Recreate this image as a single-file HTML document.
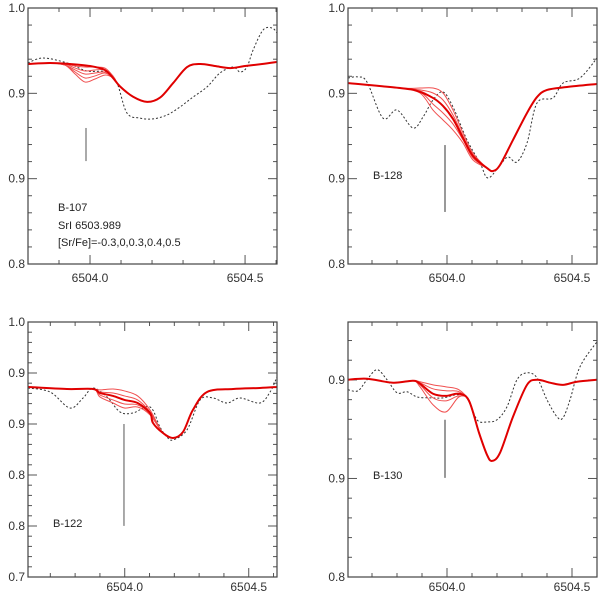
<!DOCTYPE html>
<html><head><meta charset="utf-8"><style>
body{margin:0;background:#fff;}
svg{display:block;font-family:"Liberation Sans",sans-serif;}
</style></head><body>
<svg id="fig" width="600" height="593" viewBox="0 0 600 593"></svg>
<script>
// ---------- data (wavelength in Å, normalised flux) ----------
// Panel B-107
const p1Xticks=[6504.0,6504.5];
const p1Yticks=[0.85,0.90,0.95,1.00];
const p1Ylabels=["0.8","0.9","0.9","1.0"];
const p1BaseX=[6503.800,6503.871,6503.935,6504.000,6504.048,6504.074,6504.097,6504.139,6504.184,6504.226,6504.268,6504.313,6504.355,6504.403,6504.452,6504.500,6504.555,6504.603];
const p1BaseY=[0.9672,0.9678,0.9672,0.9660,0.9637,0.9590,0.9540,0.9480,0.9450,0.9475,0.9560,0.9654,0.9672,0.9660,0.9648,0.9660,0.9672,0.9684];
const p1VarX=[6503.800,6503.871,6503.919,6503.952,6503.984,6504.016,6504.048,6504.074];
const p1Var1=[0.9672,0.9678,0.9672,0.9660,0.9654,0.9654,0.9648,0.9602];
const p1Var2=[0.9672,0.9678,0.9672,0.9648,0.9631,0.9637,0.9637,0.9596];
const p1Var3=[0.9672,0.9678,0.9666,0.9637,0.9613,0.9619,0.9625,0.9596];
const p1Var4=[0.9672,0.9678,0.9666,0.9625,0.9590,0.9602,0.9619,0.9590];
const p1Var5=[0.9672,0.9678,0.9666,0.9613,0.9566,0.9584,0.9607,0.9590];
const p1ObsX=[6503.800,6503.848,6503.926,6503.990,6504.055,6504.087,6504.119,6504.161,6504.203,6504.248,6504.290,6504.332,6504.377,6504.419,6504.461,6504.484,6504.506,6504.526,6504.558,6504.587,6504.603];
const p1ObsY=[0.9678,0.9707,0.9678,0.9631,0.9625,0.9560,0.9385,0.9355,0.9350,0.9373,0.9420,0.9478,0.9537,0.9619,0.9654,0.9625,0.9654,0.9754,0.9871,0.9883,0.9854];
const p1Mark=[6503.987,0.9103,0.9297];
// Panel B-128
const p2Xticks=[6504.0,6504.5];
const p2Yticks=[0.85,0.90,0.95,1.00];
const p2Ylabels=["0.8","0.9","0.9","1.0"];
const p2BaseX=[6503.604,6503.812,6503.880,6503.944,6503.984,6504.024,6504.064,6504.104,6504.160,6504.184,6504.212,6504.264,6504.320,6504.360,6504.400,6504.480,6504.600];
const p2BaseY=[0.9560,0.9531,0.9514,0.9473,0.9426,0.9350,0.9238,0.9133,0.9062,0.9045,0.9080,0.9227,0.9385,0.9478,0.9520,0.9537,0.9555];
const p2VarX=[6503.604,6503.812,6503.892,6503.944,6503.984,6504.024,6504.064,6504.104,6504.160];
const p2Var1=[0.9560,0.9531,0.9531,0.9531,0.9502,0.9402,0.9268,0.9150,0.9062];
const p2Var2=[0.9560,0.9531,0.9520,0.9502,0.9461,0.9373,0.9250,0.9139,0.9062];
const p2Var3=[0.9560,0.9531,0.9514,0.9473,0.9426,0.9350,0.9238,0.9133,0.9062];
const p2Var4=[0.9560,0.9531,0.9508,0.9437,0.9385,0.9320,0.9227,0.9121,0.9062];
const p2Var5=[0.9560,0.9531,0.9502,0.9402,0.9344,0.9285,0.9209,0.9109,0.9062];
const p2ObsX=[6503.604,6503.644,6503.680,6503.744,6503.800,6503.864,6503.904,6503.944,6503.984,6504.024,6504.080,6504.132,6504.164,6504.212,6504.244,6504.280,6504.320,6504.360,6504.424,6504.464,6504.532,6504.600];
const p2ObsY=[0.9590,0.9596,0.9566,0.9355,0.9402,0.9297,0.9361,0.9461,0.9508,0.9420,0.9227,0.9092,0.9004,0.9080,0.9127,0.9098,0.9209,0.9443,0.9473,0.9560,0.9590,0.9707];
const p2Mark=[6503.992,0.8805,0.9197];
// Panel B-122
const p3Xticks=[6504.0,6504.5];
const p3Yticks=[0.75,0.80,0.85,0.90,0.95,1.00];
const p3Ylabels=["0.7","0.8","0.8","0.9","0.9","1.0"];
const p3BaseX=[6503.610,6503.767,6503.872,6503.900,6503.953,6503.999,6504.052,6504.102,6504.114,6504.154,6504.195,6504.235,6504.275,6504.332,6504.437,6504.545,6504.614];
const p3BaseY=[0.9363,0.9343,0.9343,0.9304,0.9275,0.9236,0.9206,0.9108,0.9010,0.8912,0.8863,0.8922,0.9138,0.9314,0.9343,0.9353,0.9363];
const p3VarX=[6503.610,6503.767,6503.872,6503.900,6503.953,6503.999,6504.052,6504.102,6504.154];
const p3Var1=[0.9363,0.9343,0.9343,0.9334,0.9343,0.9324,0.9275,0.9138,0.8912];
const p3Var2=[0.9363,0.9343,0.9343,0.9314,0.9304,0.9275,0.9236,0.9118,0.8912];
const p3Var3=[0.9363,0.9343,0.9343,0.9304,0.9275,0.9236,0.9206,0.9108,0.8912];
const p3Var4=[0.9363,0.9343,0.9343,0.9285,0.9236,0.9196,0.9187,0.9098,0.8912];
const p3Var5=[0.9363,0.9343,0.9343,0.9265,0.9206,0.9157,0.9167,0.9089,0.8912];
const p3ObsX=[6503.610,6503.699,6503.779,6503.832,6503.872,6503.929,6503.981,6504.033,6504.102,6504.142,6504.170,6504.195,6504.251,6504.304,6504.356,6504.412,6504.465,6504.545,6504.586,6504.614];
const p3ObsY=[0.9353,0.9314,0.9157,0.9255,0.9353,0.9265,0.9118,0.9108,0.9167,0.8971,0.8873,0.8844,0.8942,0.9236,0.9255,0.9206,0.9255,0.9206,0.9314,0.9461];
const p3Mark=[6503.997,0.8001,0.9000];
// Panel B-130
const p4Xticks=[6504.0,6504.5];
const p4Yticks=[0.85,0.90,0.95];
const p4Ylabels=["0.8","0.9","0.9"];
const p4BaseX=[6503.604,6503.680,6503.784,6503.864,6503.892,6503.944,6503.996,6504.048,6504.088,6504.128,6504.160,6504.180,6504.212,6504.264,6504.320,6504.360,6504.412,6504.464,6504.520,6504.600];
const p4BaseY=[0.9501,0.9506,0.9486,0.9496,0.9481,0.9430,0.9419,0.9430,0.9394,0.9232,0.9120,0.9089,0.9130,0.9313,0.9475,0.9501,0.9486,0.9475,0.9491,0.9501];
const p4VarX=[6503.604,6503.680,6503.784,6503.864,6503.892,6503.944,6503.996,6504.048,6504.088,6504.128];
const p4Var1=[0.9501,0.9506,0.9486,0.9496,0.9491,0.9475,0.9465,0.9450,0.9389,0.9232];
const p4Var2=[0.9501,0.9506,0.9486,0.9496,0.9486,0.9455,0.9445,0.9440,0.9389,0.9232];
const p4Var3=[0.9501,0.9506,0.9486,0.9496,0.9481,0.9430,0.9419,0.9430,0.9394,0.9232];
const p4Var4=[0.9501,0.9506,0.9486,0.9496,0.9475,0.9409,0.9394,0.9419,0.9394,0.9232];
const p4Var5=[0.9501,0.9506,0.9486,0.9496,0.9465,0.9374,0.9338,0.9414,0.9399,0.9232];
const p4ObsX=[6503.604,6503.644,6503.680,6503.720,6503.760,6503.800,6503.840,6503.880,6503.932,6503.984,6504.040,6504.080,6504.120,6504.160,6504.200,6504.240,6504.280,6504.320,6504.360,6504.400,6504.440,6504.464,6504.492,6504.532,6504.600];
const p4ObsY=[0.9450,0.9445,0.9501,0.9552,0.9501,0.9435,0.9440,0.9414,0.9409,0.9409,0.9425,0.9414,0.9298,0.9287,0.9298,0.9364,0.9501,0.9536,0.9511,0.9399,0.9313,0.9308,0.9399,0.9567,0.9694];
const p4Mark=[6503.992,0.9003,0.9298];

// ---------- layout ----------
const panels=[
 {name:"b-107",box:[28,8,277,264],xd:[6503.800,6504.603],yd:[0.85,1.00],ymin:0.01,xt:p1Xticks,yt:p1Yticks,yl:p1Ylabels,bx:p1BaseX,by:p1BaseY,vx:p1VarX,vars:[p1Var1,p1Var2,p1Var3,p1Var4,p1Var5],ox:p1ObsX,oy:p1ObsY,mk:p1Mark,mkc:"#555",labels:[["B-107",58,211],["SrI 6503.989",58,229],["[Sr/Fe]=-0.3,0,0.3,0.4,0.5",58,246]],xlY:282},
 {name:"b-128",box:[348,8,597,264],xd:[6503.604,6504.600],yd:[0.85,1.00],ymin:0.01,xt:p2Xticks,yt:p2Yticks,yl:p2Ylabels,bx:p2BaseX,by:p2BaseY,vx:p2VarX,vars:[p2Var1,p2Var2,p2Var3,p2Var4,p2Var5],ox:p2ObsX,oy:p2ObsY,mk:p2Mark,mkc:"#999",labels:[["B-128",373,179]],xlY:282},
 {name:"b-122",box:[28,322,277,577],xd:[6503.610,6504.614],yd:[0.75,1.00],ymin:0.01,xt:p3Xticks,yt:p3Yticks,yl:p3Ylabels,bx:p3BaseX,by:p3BaseY,vx:p3VarX,vars:[p3Var1,p3Var2,p3Var3,p3Var4,p3Var5],ox:p3ObsX,oy:p3ObsY,mk:p3Mark,mkc:"#555",labels:[["B-122",53,527]],xlY:591},
 {name:"b-130",box:[348,322,597,577],xd:[6503.604,6504.600],yd:[0.85,0.9794],ymin:0.01,xt:p4Xticks,yt:p4Yticks,yl:p4Ylabels,bx:p4BaseX,by:p4BaseY,vx:p4VarX,vars:[p4Var1,p4Var2,p4Var3,p4Var4,p4Var5],ox:p4ObsX,oy:p4ObsY,mk:p4Mark,mkc:"#999",labels:[["B-130",373,479]],xlY:591}
];
const NS="http://www.w3.org/2000/svg";
const svg=document.getElementById("fig");
function mk(tag,attrs,parent){const e=document.createElementNS(NS,tag);for(const k in attrs)e.setAttribute(k,attrs[k]);(parent||svg).appendChild(e);return e;}
function smooth(pts){
 let d="M"+pts[0][0].toFixed(2)+","+pts[0][1].toFixed(2);
 for(let i=0;i<pts.length-1;i++){
  const p0=pts[Math.max(i-1,0)],p1=pts[i],p2=pts[i+1],p3=pts[Math.min(i+2,pts.length-1)];
  const c1=[p1[0]+(p2[0]-p0[0])/6,p1[1]+(p2[1]-p0[1])/6];
  const c2=[p2[0]-(p3[0]-p1[0])/6,p2[1]-(p3[1]-p1[1])/6];
  d+="C"+c1[0].toFixed(2)+","+c1[1].toFixed(2)+" "+c2[0].toFixed(2)+","+c2[1].toFixed(2)+" "+p2[0].toFixed(2)+","+p2[1].toFixed(2);
 }
 return d;
}
panels.forEach(p=>{
 const [L,T,R,B]=p.box;
 const sx=v=>L+(v-p.xd[0])/(p.xd[1]-p.xd[0])*(R-L);
 const sy=v=>B-(v-p.yd[0])/(p.yd[1]-p.yd[0])*(B-T);
 const g=mk("g",{});
 
 
 const clipId="clip-"+p.name;
 const cp=mk("clipPath",{id:clipId},g);mk("rect",{x:L,y:T,width:R-L,height:B-T},cp);
 // ticks
 const tg=mk("g",{stroke:"#555","stroke-width":1},g);
 
 
 for(let v=Math.ceil(p.xd[0]*10-1e-6)/10;v<=p.xd[1]+1e-9;v+=0.1){
  const major=p.xt.some(t=>Math.abs(t-v)<1e-6);const x=sx(v),len=major?9:4;
  mk("line",{x1:x,y1:B,x2:x,y2:B-len},tg);mk("line",{x1:x,y1:T,x2:x,y2:T+len},tg);
 }
 for(let k=Math.ceil(p.yd[0]/p.ymin-1e-6);k*p.ymin<=p.yd[1]+1e-9;k++){
  const v=k*p.ymin;const major=p.yt.some(t=>Math.abs(t-v)<1e-6);const y=sy(v),len=major?9:4;
  mk("line",{x1:L,y1:y,x2:L+len,y2:y},tg);mk("line",{x1:R,y1:y,x2:R-len,y2:y},tg);
 }
 p.xt.forEach(t=>{const e=mk("text",{x:sx(t),y:p.xlY,"text-anchor":"middle","font-size":12,fill:"#333"},g);e.textContent=t.toFixed(1);
  
  });
 p.yt.forEach((t,i)=>{const e=mk("text",{x:L-3,y:sy(t)+4,"text-anchor":"end","font-size":12,fill:"#333"},g);e.textContent=p.yl[i];
  
  });
 const cg=mk("g",{"clip-path":"url(#"+clipId+")",fill:"none"},g);
 // observed
 const obs=mk("path",{d:smooth(p.ox.map((x,i)=>[sx(x),sy(p.oy[i])])),stroke:"#333","stroke-width":1,"stroke-dasharray":"2,2"},cg);
 
 
 // variants
 p.vars.forEach((vy,j)=>{
  const pts=p.vx.map((x,i)=>[sx(x),sy(vy[i])]);
  const rest=p.bx.map((x,i)=>[sx(x),sy(p.by[i])]).filter(q=>q[0]>pts[pts.length-1][0]+0.5);
  const e=mk("path",{d:smooth(pts.concat(rest)),stroke:"#f05050","stroke-width":1},cg);
  
  
 });
 const base=mk("path",{d:smooth(p.bx.map((x,i)=>[sx(x),sy(p.by[i])])),stroke:"#e00000","stroke-width":2},cg);
 
 
 const m=mk("line",{x1:sx(p.mk[0]),x2:sx(p.mk[0]),y1:sy(p.mk[1]),y2:sy(p.mk[2]),stroke:p.mkc,"stroke-width":p.mkc=="#999"?2:1},g);
 
 
 mk("rect",{x:L,y:T,width:R-L,height:B-T,fill:"none",stroke:"#444","stroke-width":1.2},g);
 p.labels.forEach(l=>{const e=mk("text",{x:l[1],y:l[2],"font-size":11,fill:"#222"},g);e.textContent=l[0];
  
  });
});
</script>
</body></html>
